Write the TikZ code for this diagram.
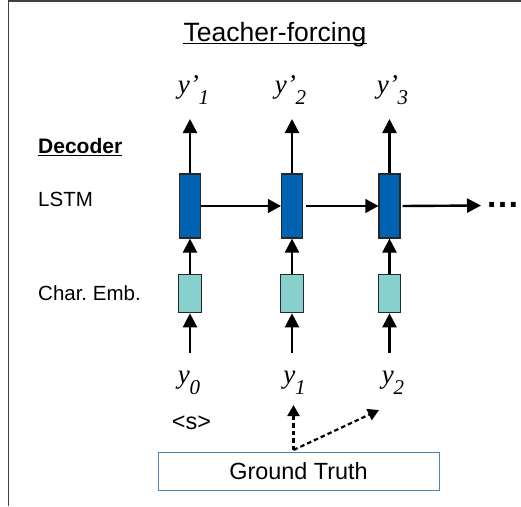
\documentclass[tikz,border=0pt]{standalone}
\usepackage{fontspec}
\setmainfont{Liberation Sans}
\newfontfamily\ylabfont{Liberation Serif}
\usetikzlibrary{arrows.meta}

\definecolor{lstmblue}{RGB}{0,99,177}
\definecolor{embteal}{RGB}{136,208,206}
\definecolor{gtblue}{RGB}{79,129,189}
\definecolor{edgegray}{RGB}{40,40,40}

% italic serif symbol with a lowered index
\newcommand\ylab[2]{{\ylabfont\itshape\fontsize{27}{29}\selectfont #1\raisebox{-11pt}{\fontsize{21}{21}\selectfont #2}}}

\begin{document}
\frenchspacing
\begin{tikzpicture}[x=1pt,y=-1pt,
  txt/.style={inner sep=0pt, anchor=base},
  lstm/.style={draw=edgegray, line width=1.2pt, fill=lstmblue,
    minimum width=21pt, minimum height=64pt, inner sep=0pt},
  emb/.style={draw=edgegray, line width=1.2pt, fill=embteal,
    minimum width=22.5pt, minimum height=38.5pt, inner sep=0pt},
  flow/.style={line width=2.4pt, -{Triangle[length=14pt,width=14pt]}},
  rec/.style={line width=1.3pt, -{Triangle[length=13pt,width=14pt]}},
  gtarrow/.style={line width=2.2pt, dash pattern=on 4.5pt off 3pt,
    -{Triangle[length=11pt,width=12pt]}}]

\useasboundingbox (0,0) rectangle (521,506);

% frame
\draw[black!75, line width=1.5pt] (8.5,506) -- (8.5,0.75) -- (521,0.75);

% title
\node[txt] (title) at (275,41.7) {\fontsize{26.5}{30}\selectfont Teacher-forcing};
\draw[line width=1.3pt] ([yshift=-2pt]title.base west) -- ([yshift=-2pt]title.base east);

% row labels
\node[txt, anchor=base west] (dec) at (38,153.5) {\fontsize{21}{24}\selectfont\bfseries Decoder};
\draw[line width=1.3pt] ([yshift=-2pt]dec.base west) -- ([yshift=-2pt]dec.base east);
\node[txt, anchor=base west] (lstmlab) at (38,206) {\fontsize{20.5}{24}\selectfont LSTM};
\node[txt, anchor=base west] (emblab) at (38,300) {\fontsize{20.5}{24}\selectfont Char. Emb.};

% unrolled decoder steps
\foreach \i/\x in {1/190,2/292,3/389.5} {
  \node[lstm] (lstm\i) at (\x,206) {};
  \node[emb] (emb\i) at (\x,293.5) {};
  \coordinate (up\i) at (\x,119);
  \coordinate (in\i) at (\x,353);
  \draw[flow] (lstm\i.north) -- (up\i);
  \draw[flow] (emb\i.north) -- (lstm\i.south);
  \draw[flow] (in\i) -- (emb\i.south);
}

% recurrent connections
\coordinate (more) at (481,205.5);
\draw[rec] (lstm1.east) -- (lstm2.west);
\draw[rec] ([xshift=3pt]lstm2.east) -- (lstm3.west);
\draw[flow] ([xshift=2pt]lstm3.east) -- (more);
\node[txt] (dots) at (502.5,207) {\fontsize{34}{36}\selectfont\bfseries …};

% outputs
\node[txt] (yp1) at (193.5,93) {\ylab{y’}{1}};
\node[txt] (yp2) at (290.5,93) {\ylab{y’}{2}};
\node[txt] (yp3) at (392.5,93) {\ylab{y’}{3}};

% inputs
\node[txt] (y0) at (189,383) {\ylab{y}{0}};
\node[txt] (y1) at (294.5,383) {\ylab{y}{1}};
\node[txt] (y2) at (393,383) {\ylab{y}{2}};
\node[txt] (start) at (191.5,429) {\fontsize{23.4}{26}\selectfont <s>};

% ground truth feeding the inputs
\node[draw=gtblue, line width=1pt, minimum width=281pt, minimum height=38pt, inner sep=0pt]
  (gt) at (298.5,471) {\fontsize{23.4}{26}\selectfont Ground Truth};
\coordinate (gtsrc) at (293.5,450);
\coordinate (to1) at (293.5,405);
\coordinate (to2) at (379,410);
\draw[gtarrow] (gtsrc) -- (to1);
\draw[gtarrow] (gtsrc) -- (to2);

\end{tikzpicture}
\end{document}
